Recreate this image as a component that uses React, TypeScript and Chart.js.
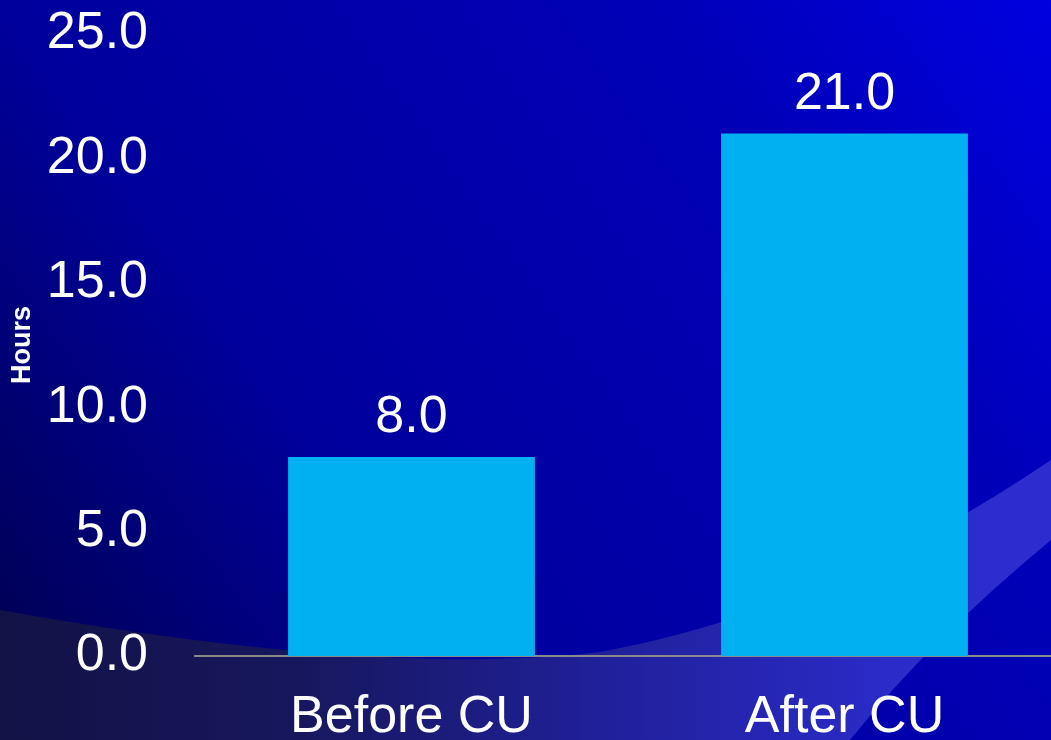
import React, { useEffect, useRef } from "react";
import { Chart, registerables } from "chart.js";

Chart.register(...registerables);

const categories = ["Before CU", "After CU"];
const hours = [8.0, 21.0];
const yTicks = [0, 5, 10, 15, 20, 25];

const FONT = "'Liberation Sans', Arial, sans-serif";

const backgroundPlugin = {
  id: "slideBackground",
  beforeDraw(chart: any) {
    const ctx = chart.ctx;
    const w = chart.width;
    const h = chart.height;
    ctx.save();
    const g = ctx.createLinearGradient(0, 740, 1051, 0);
    g.addColorStop(0, "#00004a");
    g.addColorStop(0.33, "#00009c");
    g.addColorStop(0.75, "#0000b8");
    g.addColorStop(1, "#0000e0");
    ctx.fillStyle = g;
    ctx.fillRect(0, 0, w, h);
    // swoosh decoration
    ctx.beginPath();
    ctx.moveTo(0, 610);
    ctx.quadraticCurveTo(380, 678, 600, 652);
    ctx.quadraticCurveTo(830, 610, 1051, 460);
    ctx.lineTo(w, 460);
    ctx.lineTo(w, 540);
    ctx.lineTo(1051, 540);
    ctx.quadraticCurveTo(930, 640, 850, 740);
    ctx.lineTo(0, 740);
    ctx.closePath();
    const g2 = ctx.createLinearGradient(0, 0, 1000, 0);
    g2.addColorStop(0, "#121246");
    g2.addColorStop(0.3, "#17175e");
    g2.addColorStop(0.6, "#20209a");
    g2.addColorStop(0.9, "#2b2bca");
    g2.addColorStop(1, "#2d2dcf");
    ctx.fillStyle = g2;
    ctx.fill();
    ctx.restore();
  },
};

const valueLabelPlugin = {
  id: "valueLabels",
  afterDatasetsDraw(chart: any) {
    const ctx = chart.ctx;
    const meta = chart.getDatasetMeta(0);
    ctx.save();
    ctx.fillStyle = "#ffffff";
    ctx.font = `52px ${FONT}`;
    ctx.textAlign = "center";
    ctx.textBaseline = "middle";
    meta.data.forEach((bar: any, i: number) => {
      ctx.fillText(hours[i].toFixed(1), bar.x, bar.y - 39);
    });
    ctx.restore();
  },
};

export default function App() {
  const ref = useRef<HTMLCanvasElement>(null);
  useEffect(() => {
    if (!ref.current) return;
    const chart = new Chart(ref.current, {
      type: "bar",
      data: {
        labels: categories,
        datasets: [
          {
            data: hours,
            backgroundColor: "#00b0f0",
            borderWidth: 0,
            categoryPercentage: 1,
            barPercentage: 0.57,
          },
        ],
      },
      options: {
        responsive: false,
        animation: false,
        layout: { padding: { top: 34, left: 0, right: 0, bottom: 0 } },
        plugins: {
          legend: { display: false },
          tooltip: { enabled: false },
        },
        scales: {
          x: {
            grid: { display: false, drawTicks: false },
            border: { display: true, color: "#8a8a8a", width: 2 },
            ticks: {
              color: "#ffffff",
              font: { family: FONT, size: 52 },
              padding: 30,
              maxRotation: 0,
            },
            afterFit: (s: any) => {
              s.height = 84;
              s.paddingLeft = 0;
              s.paddingRight = 0;
            },
          },
          y: {
            min: 0,
            max: 25,
            afterBuildTicks: (s: any) => {
              s.ticks = yTicks.map((v) => ({ value: v }));
            },
            grid: { display: false, drawTicks: false },
            border: { display: false },
            ticks: {
              color: "#ffffff",
              font: { family: FONT, size: 52 },
              padding: 47,
              callback: (v: any) => Number(v).toFixed(1),
            },
            title: {
              display: true,
              text: "Hours",
              color: "#ffffff",
              font: { family: FONT, size: 27, weight: "bold" },
              padding: { top: 6, bottom: 0 },
            },
            afterFit: (s: any) => {
              s.width = 195;
              s.paddingTop = 0;
              s.paddingBottom = 0;
            },
          },
        },
      },
      plugins: [backgroundPlugin, valueLabelPlugin],
    });
    return () => chart.destroy();
  }, []);

  return (
    <div
      style={{
        position: "fixed",
        left: 0,
        top: 0,
        width: 1051,
        height: 740,
        overflow: "hidden",
        background: "#00006a",
      }}
    >
      <canvas ref={ref} width={1061} height={740} style={{ display: "block" }} />
    </div>
  );
}
